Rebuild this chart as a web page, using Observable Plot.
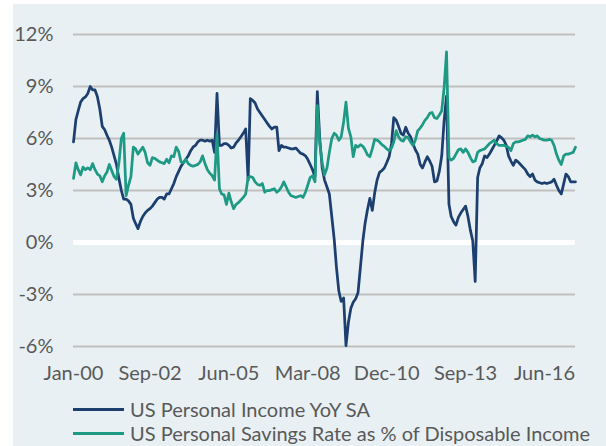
<!DOCTYPE html>
<html><head><meta charset="utf-8">
<script src="https://cdn.jsdelivr.net/npm/d3@7"></script>
<script src="https://cdn.jsdelivr.net/npm/@observablehq/plot@0.6"></script>
<style>
body{margin:0;background:#fff;width:606px;height:446px;position:relative;overflow:hidden;font-family:Lato,sans-serif;}
#bg{position:absolute;left:13px;top:4px;width:593px;height:442px;background:#e8f0f3;}
#chart{position:absolute;left:0;top:0;}
#legend{position:absolute;left:73px;top:397px;}
.item{display:flex;align-items:center;height:24px;font-size:20px;color:#595959;white-space:nowrap;}
.sw{width:51px;height:3px;margin-right:6px;}
</style></head>
<body>
<div id="bg"></div>
<div id="chart"></div>
<div id="legend"></div>
<script>
// Monthly values from Jan-2000 (one row per year)
const startMonth = "2000-01";
const seriesNames = ["US Personal Income YoY SA", "US Personal Savings Rate as % of Disposable Income"];
const seriesColors = ["#1c3f70", "#1e9a84"];
const incomeYoY = [
  5.8, 7.1, 7.6, 8.1, 8.3, 8.4, 8.6, 9.0, 8.8, 8.8, 8.4, 7.7,
  6.7, 6.5, 6.2, 5.9, 5.5, 5.0, 4.5, 3.7, 3.0, 2.5, 2.5, 2.4,
  2.2, 1.4, 1.1, 0.8, 1.2, 1.5, 1.7, 1.85, 1.95, 2.1, 2.3, 2.5,
  2.6, 2.6, 2.5, 2.8, 2.8, 3.1, 3.4, 3.8, 4.1, 4.4, 4.6, 4.8,
  5.0, 5.3, 5.5, 5.6, 5.8, 5.9, 5.9, 5.85, 5.9, 5.85, 5.9, 5.2,
  8.6, 5.6, 5.6, 5.7, 5.7, 5.6, 5.45, 5.5, 5.75, 5.9, 6.1, 6.3,
  6.55, 3.6, 8.3, 8.2, 8.05, 7.7, 7.5, 7.3, 7.1, 6.9, 6.7, 6.55,
  6.65, 6.65, 5.3, 5.6, 5.5, 5.5, 5.45, 5.4, 5.4, 5.45, 5.3, 5.15,
  5.1, 5.0, 4.8, 4.5, 4.2, 3.8, 8.7, 6.0, 4.3, 3.6, 3.2, 2.8,
  1.5, 0.2, -1.4, -2.8, -3.4, -3.2, -5.95, -4.6, -3.8, -3.45, -3.25, -2.9,
  -1.4, 0.1, 1.1, 1.9, 2.55, 1.85, 2.85, 3.6, 4.05, 4.15, 4.3, 4.6,
  4.95, 5.7, 7.2, 7.05, 6.7, 6.3, 6.2, 6.65, 6.3, 6.1, 5.7, 5.35,
  5.1, 4.5, 4.3, 4.65, 4.95, 4.7, 4.4, 3.5, 3.55, 4.1, 5.0, 7.0,
  8.45, 2.2, 1.5, 1.2, 1.0, 1.45, 1.7, 1.9, 2.1, 1.5, 0.7, 0.1,
  -2.25, 3.75, 4.3, 4.55, 5.0, 4.9, 5.1, 5.35, 5.6, 5.85, 6.15, 6.05,
  5.9, 5.6, 5.0, 4.7, 4.45, 4.75, 4.65, 4.5, 4.35, 4.2, 3.95, 3.8,
  3.95, 3.6, 3.5, 3.45, 3.4, 3.45, 3.4, 3.45, 3.5, 3.65, 3.3, 3.0,
  2.8, 3.4, 3.95, 3.8, 3.5, 3.5, 3.5
];
const savingsRate = [
  3.7, 4.6, 4.2, 3.9, 4.35, 4.2, 4.3, 4.2, 4.55, 4.2, 3.95, 3.85,
  3.5, 3.85, 4.05, 4.5, 4.15, 3.8, 3.65, 4.6, 6.0, 6.3, 2.7, 3.3,
  3.8, 5.5, 5.4, 5.1, 5.3, 5.5, 5.2, 4.6, 4.45, 4.9, 4.85, 4.75,
  4.65, 4.6, 4.55, 4.8, 4.6, 5.0, 4.95, 5.5, 5.25, 4.65, 4.6, 4.8,
  4.55, 4.45, 4.4, 4.45, 4.5, 4.65, 5.0, 4.55, 4.2, 4.0, 3.85, 3.6,
  6.25, 3.1, 2.8, 2.75, 2.2, 2.85, 2.35, 1.95, 2.2, 2.3, 2.45, 2.6,
  2.8, 3.75, 3.8, 3.75, 3.5, 3.35, 3.3, 3.4, 2.9, 3.0, 3.0, 3.05,
  3.1, 2.9, 3.0, 3.2, 3.5, 3.2, 2.9, 2.7, 2.65, 2.6, 2.65, 2.7,
  2.6, 2.9, 3.3, 3.75, 3.85, 3.5, 7.9, 5.7, 4.6, 3.9, 4.3, 5.2,
  6.0, 6.3, 6.2, 5.9, 6.1, 6.95, 8.1, 6.6, 6.1, 4.95, 5.6, 5.5,
  5.65, 5.55, 5.35, 5.05, 4.95, 5.4, 5.95, 5.9, 5.8, 5.65, 5.55, 5.4,
  5.3, 5.45, 5.8, 6.45, 6.1, 5.9, 5.85, 6.1, 6.05, 5.8, 5.6, 5.9,
  6.45, 6.6, 6.8, 7.05, 7.2, 7.45, 7.5, 7.2, 7.15, 7.35, 7.6, 8.9,
  11.0, 4.9, 4.75, 4.85, 5.1, 5.35, 5.4, 5.2, 5.4, 5.2, 4.9, 4.65,
  4.7, 5.2, 5.3, 5.35, 5.4, 5.55, 5.7, 5.8, 5.9, 5.7, 5.6, 5.6,
  5.6, 5.55, 5.5, 5.3, 5.7, 5.8, 5.8, 5.85, 5.9, 5.95, 6.15, 6.1,
  6.2, 6.1, 6.15, 6.0, 5.95, 5.9, 5.9, 5.95, 5.9, 5.6, 5.1, 4.75,
  4.5, 5.0, 5.1, 5.1, 5.15, 5.2, 5.5
];
const xTickLabels = ["Jan-00", "Sep-02", "Jun-05", "Mar-08", "Dec-10", "Sep-13", "Jun-16"];
const yTicks = [-6, -3, 0, 3, 6, 9, 12];

const start = d3.utcParse("%Y-%m")(startMonth);
const toRows = (arr) => arr.map((v, i) => ({date: d3.utcMonth.offset(start, i), value: v}));
const income = toRows(incomeYoY);
const savings = toRows(savingsRate);
const parseTick = d3.utcParse("%b-%y");
const xTicks = xTickLabels.map(parseTick);
const fmt = d3.utcFormat("%b-%y");

const chart = Plot.plot({
  width: 606,
  height: 390,
  marginTop: 34,
  marginBottom: 44,
  marginLeft: 73,
  marginRight: 31,
  style: {background: "transparent", fontFamily: "Lato, sans-serif", fontSize: "20px", color: "#595959"},
  x: {type: "utc", domain: [income[0].date, income[income.length - 1].date], ticks: xTicks, tickFormat: fmt, tickSize: 0, tickPadding: 19, label: null},
  y: {domain: [-6, 12], ticks: yTicks, tickFormat: d => d + "%", tickSize: 0, tickPadding: 20, label: null},
  marks: [
    Plot.ruleY(yTicks.filter(d => d !== 0), {stroke: "#bfbfbf", strokeWidth: 2}),
    Plot.ruleY([0], {stroke: "#ffffff", strokeWidth: 5}),
    Plot.line(income, {x: "date", y: "value", stroke: seriesColors[0], strokeWidth: 2.75}),
    Plot.line(savings, {x: "date", y: "value", stroke: seriesColors[1], strokeWidth: 2.75})
  ]
});
document.getElementById("chart").appendChild(chart);

const legend = document.getElementById("legend");
seriesNames.forEach((name, i) => {
  const item = document.createElement("div");
  item.className = "item";
  const sw = document.createElement("span");
  sw.className = "sw";
  sw.style.background = seriesColors[i];
  const t = document.createElement("span");
  t.textContent = name;
  item.appendChild(sw);
  item.appendChild(t);
  legend.appendChild(item);
});
</script>
</body></html>
